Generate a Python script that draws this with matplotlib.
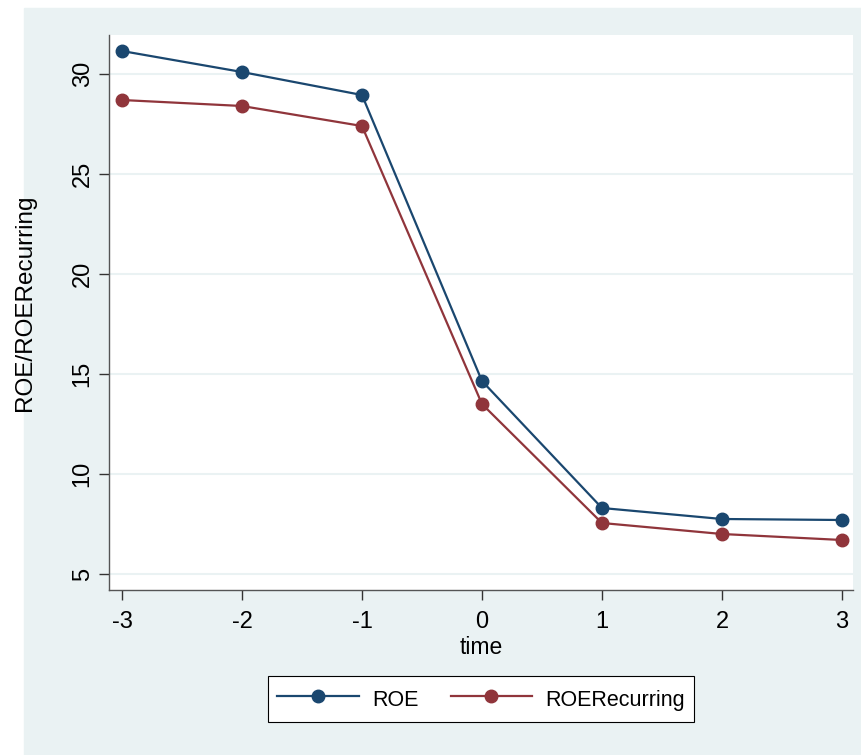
import matplotlib
matplotlib.use("Agg")
import matplotlib.pyplot as plt
from matplotlib.patches import Rectangle

plt.rcParams['font.family'] = ['Liberation Sans', 'DejaVu Sans']
plt.rcParams['axes.unicode_minus'] = False

time = [-3, -2, -1, 0, 1, 2, 3]
roe = [31.15, 30.1, 28.95, 14.65, 8.3, 7.75, 7.7]
roe_recurring = [28.7, 28.4, 27.4, 13.5, 7.55, 7.0, 6.7]
yticks = [5, 10, 15, 20, 25, 30]

BG = '#EAF2F3'
BLUE = '#1A476F'
RED = '#90353B'

W, H = 861, 755
fig = plt.figure(figsize=(W / 100, H / 100), dpi=100)
fig.patches.append(Rectangle((24 / W, 0), 1 - 24 / W, 1 - 8 / H,
                             transform=fig.transFigure, color=BG, zorder=-10))

ax = fig.add_axes([109 / W, (H - 590) / H, (853 - 109) / W, (590 - 35) / H])
ax.set_facecolor('white')

ax.plot(time, roe, color=BLUE, lw=1.6, marker='o', ms=9, label='ROE')
ax.plot(time, roe_recurring, color=RED, lw=1.6, marker='o', ms=9, label='ROERecurring')

ax.set_xlim(-3.108, 3.092)
ax.set_ylim(4.2, 31.95)
ax.set_xticks(time)
ax.set_yticks(yticks)
ax.set_yticklabels([str(v) for v in yticks], rotation=90, va='center')
ax.grid(axis='y', color=BG, lw=1.5)
ax.set_axisbelow(True)

for s in ['top', 'right']:
    ax.spines[s].set_visible(False)
for s in ['left', 'bottom']:
    ax.spines[s].set_color('#555555')
    ax.spines[s].set_linewidth(1.0)
ax.tick_params(direction='out', length=7, width=1, color='#333333', labelsize=17)
ax.tick_params(axis='x', pad=8)
ax.tick_params(axis='y', pad=4)

# axis titles placed like the reference
fig.text(481 / W, 1 - 647 / H, 'time', fontsize=16.5, ha='center', va='center')
fig.text(25 / W, 1 - 303 / H, 'ROE/ROERecurring', fontsize=17.5,
         rotation=90, ha='center', va='center')

leg = fig.legend(loc='center', bbox_to_anchor=(481 / W, 1 - 699 / H), ncol=2,
                 fontsize=15.5, frameon=True, fancybox=False, edgecolor='black',
                 framealpha=1, handlelength=3.8, handleheight=1.6,
                 columnspacing=1.5, borderpad=0.42, handletextpad=0.6)
leg.get_frame().set_linewidth(0.8)

fig.savefig('out.png', dpi=100)
